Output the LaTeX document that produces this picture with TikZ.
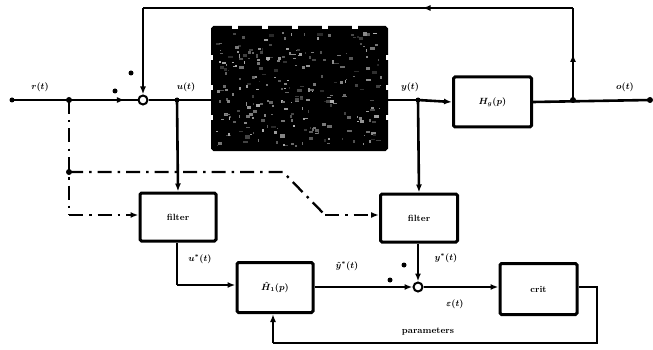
\documentclass[tikz,border=0pt]{standalone}
\usetikzlibrary{arrows.meta,decorations.markings}
\begin{document}
\begin{tikzpicture}[x=1pt,y=-1pt,
  every node/.style={font=\bfseries\boldmath\small},
  ln/.style={line width=2.6pt},
  arr/.style={ln,-{Latex[length=8pt,width=6pt]}},
  dd/.style={line width=2.3pt,dash pattern=on 14pt off 6pt on 2.5pt off 6pt},
  ddarr/.style={dd,-{Latex[length=8pt,width=6pt]}},
  blk/.style={draw,line width=3pt,rectangle,rounded corners=1.5pt,inner sep=0pt},
  sumj/.style={draw,line width=2pt,circle,minimum size=9pt,inner sep=0pt,fill=white},
  midarr/.style={postaction={decorate},decoration={markings,mark=at position #1 with {\arrow{Latex[length=8pt,width=6pt]}}}},
  lbl/.style={font=\bfseries\boldmath\small,inner sep=1pt},
  sgn/.style={circle,fill=black,minimum size=5pt,inner sep=0pt}
]
\useasboundingbox (0,0) rectangle (653,350);

% blocks
\node[blk,minimum width=174pt,minimum height=122pt,fill=black] (plant) at (299.5,88.5) {};
\begin{scope}
\pgfmathsetseed{11}
\foreach \i in {1,...,260}{
  \pgfmathsetmacro{\xx}{216+rnd*164}
  \pgfmathsetmacro{\yy}{31+rnd*114}
  \pgfmathsetmacro{\ww}{1+rnd*4}
  \pgfmathsetmacro{\hh}{1+rnd*2.5}
  \pgfmathsetmacro{\gg}{15+rnd*55}
  \fill[white!\gg!black] (\xx,\yy) rectangle ++(\ww,\hh);
}
\foreach \xx in {232,262,292,322,352}{\fill[white] (\xx,25) rectangle ++(6,4);}
\foreach \yy in {55,85,115}{\fill[white] (209,\yy) rectangle ++(4,5); \fill[white] (386,\yy) rectangle ++(4,5);}
\end{scope}
\node[blk,minimum width=78pt,minimum height=50pt] (hg) at (492.5,102) {$H_g(p)$};
\node[blk,minimum width=76pt,minimum height=48pt] (f1) at (178,217) {filter};
\node[blk,minimum width=77pt,minimum height=48pt] (f2) at (419,218) {filter};
\node[blk,minimum width=76pt,minimum height=50pt] (h1) at (275,287.5) {$\hat H_1(p)$};
\node[blk,minimum width=77pt,minimum height=51pt] (crit) at (538.5,289) {crit};

% junctions
\node[sumj] (s1) at (143,100) {};
\node[sumj] (s2) at (418,287) {};
\coordinate (in) at (12,100);
\coordinate (out) at (650,100);
\coordinate (b0) at (69,100);
\coordinate (bu) at (177,100);
\coordinate (by) at (418,100);
\coordinate (bo) at (573,100);
\coordinate (tr) at (573,8);
\coordinate (tl) at (143,8);

% main path
\draw[ln,midarr=0.9] (in) -- (s1);
\draw[ln] (s1) -- (plant.west |- s1);
\draw[ln] (plant.east |- by) -- (by);
\draw[arr] (by) -- (hg.west);
\draw[ln] (hg.east) -- (out);
\fill (b0) circle (3pt) (bu) circle (2.5pt) (by) circle (2.5pt) (bo) circle (3pt) (out) circle (3pt) (in) circle (2.5pt);

% feedback
\draw[ln,midarr=0.5] (bo) -- (tr);
\draw[ln,midarr=0.35] (tr) -- (tl);
\draw[arr] (tl) -- (s1);

% branches to filters
\draw[arr] (bu) -- (f1.north);
\draw[arr] (by) -- (f2.north);

% dash-dot lines
\coordinate (d1) at (69,215);
\coordinate (d2) at (69,172);
\coordinate (d3) at (283,172);
\coordinate (d4) at (325,215);
\draw[dd] (b0) -- (d1);
\draw[ddarr] (d1) -- (f1.west |- d1);
\draw[dd] (d2) -- (d3) -- (d4);
\draw[ddarr] (d4) -- (f2.west |- d4);
\fill (d2) circle (3pt);

% estimation path
\coordinate (c1) at (177,285);
\draw[ln] (f1.south -| c1) -- (c1);
\draw[arr] (c1) -- (h1.west |- c1);
\draw[arr] (h1.east |- s2) -- (s2);
\draw[arr] (f2.south -| s2) -- (s2);
\draw[arr] (s2) -- (crit.west |- s2);
\coordinate (p1) at (597,287);
\coordinate (p2) at (597,343);
\coordinate (p3) at (273,343);
\draw[ln] (crit.east |- p1) -- (p1) -- (p2) -- (p3);
\draw[arr] (p3) -- (h1.south -| p3);

% signs
\node[sgn] at (131,73) {};
\node[sgn] at (115,91) {};
\node[sgn] at (404,265) {};
\node[sgn] at (390,280) {};

% labels
\node[lbl] (lr) at (40,87) {$r(t)$};
\node[lbl] (lu) at (186,87) {$u(t)$};
\node[lbl] (ly) at (410,87) {$y(t)$};
\node[lbl] (lo) at (625,87) {$o(t)$};
\node[lbl] (lus) at (200,259) {$u^*(t)$};
\node[lbl] (lys) at (446,258) {$y^*(t)$};
\node[lbl] (lyh) at (347,266) {$\hat y^*(t)$};
\node[lbl] (le) at (455,304) {$\varepsilon(t)$};
\node[lbl] (lp) at (428,332) {parameters};
\end{tikzpicture}
\end{document}
